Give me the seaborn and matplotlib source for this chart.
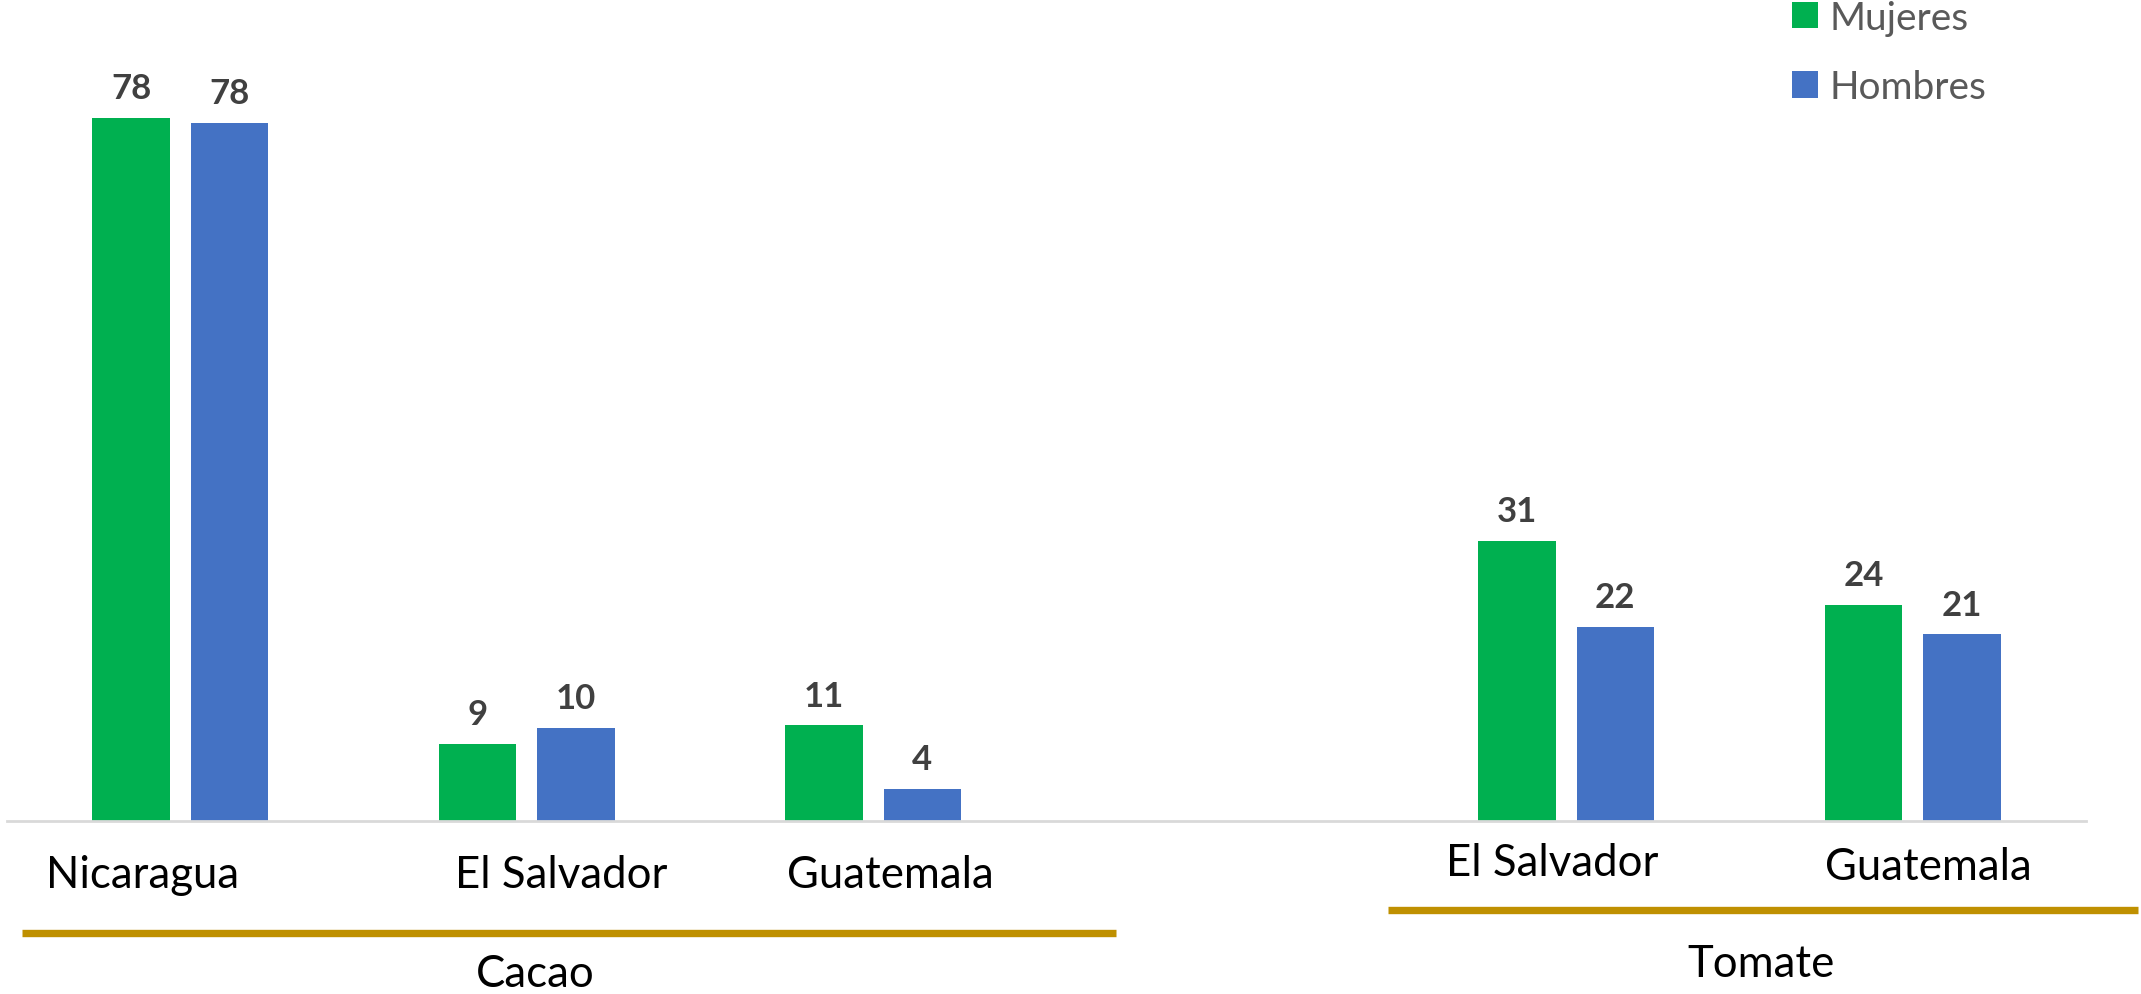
import pandas as pd
import numpy as np
import matplotlib
matplotlib.use('Agg')
import matplotlib.pyplot as plt
import seaborn as sns

# --- data ---
cultivos = ['Cacao', 'Cacao', 'Cacao', 'Tomate', 'Tomate']
paises = ['Nicaragua', 'El Salvador', 'Guatemala', 'El Salvador', 'Guatemala']
mujeres = [78.0, 8.6, 10.6, 31.1, 24.0]
hombres = [77.5, 10.3, 3.6, 21.5, 20.7]
series = ['Mujeres', 'Hombres']
colores = ['#00B050', '#4472C4']

# label tweaks (category units / pixels below the baseline)
label_dx = [-0.11, 0.10, 0.05, -0.04, 0.046]
label_dy = [66, 66, 66, 54, 58]
grupo_dx = {'Cacao': 0.024, 'Tomate': 0.063}
grupo_span = {'Cacao': (-0.457, 0.702), 'Tomate': (-0.514, 0.65)}
grupo_linea = {'Cacao': 112, 'Tomate': 89}
grupo_texto = {'Cacao': 165, 'Tomate': 155}

claves = [c + '|' + p for c, p in zip(cultivos, paises)]
df = pd.DataFrame({
    'clave': claves * 2,
    'sexo': ['Mujeres'] * len(claves) + ['Hombres'] * len(claves),
    'valor': mujeres + hombres,
})

# empty slot between the two crops
orden = claves[:3] + [' '] + claves[3:]

sns.set_style('white')
plt.rcParams['font.family'] = ['Lato', 'DejaVu Sans']

W, H = 2141, 995
AX_H = 822
fig = plt.figure(figsize=(W / 100, H / 100), dpi=100)
ax = fig.add_axes([7 / W, (H - AX_H) / H, 2079 / W, AX_H / H])

sns.barplot(data=df, x='clave', y='valor', hue='sexo', order=orden,
            hue_order=series, palette=colores, width=0.567, gap=0.21,
            saturation=1, linewidth=0, ax=ax)

ax.set_xlim(-0.5, len(orden) - 0.5)
ax.set_ylim(0, AX_H / 9.01)

for cont in ax.containers:
    ax.bar_label(cont, fmt='%.0f', padding=10, fontsize=25,
                 fontweight='bold', color='#404040')

# axis styling
for s in ['top', 'left', 'right']:
    ax.spines[s].set_visible(False)
ax.spines['bottom'].set_color('#D9D9D9')
ax.spines['bottom'].set_linewidth(2)
ax.set_xticks([])
ax.set_yticks([])
ax.set_xlabel('')
ax.set_ylabel('')

trans = ax.get_xaxis_transform()

# country labels
for i, clave in enumerate(claves):
    pos = orden.index(clave)
    ax.text(pos + label_dx[i], -label_dy[i] / AX_H, paises[i], transform=trans,
            ha='center', va='baseline', fontsize=31.5, color='black', clip_on=False)

# crop brackets
for g in ['Cacao', 'Tomate']:
    pos = [orden.index(k) for k, c in zip(claves, cultivos) if c == g]
    x0 = min(pos) + grupo_span[g][0]
    x1 = max(pos) + grupo_span[g][1]
    y = -grupo_linea[g] / AX_H
    ax.plot([x0, x1], [y, y], transform=trans, color='#BF9000',
            linewidth=5.3, solid_capstyle='butt', clip_on=False)
    ax.text(np.mean(pos) + grupo_dx[g], -grupo_texto[g] / AX_H, g,
            transform=trans, ha='center', va='baseline', fontsize=31.5,
            color='black', clip_on=False)

# legend
h, l = ax.get_legend_handles_labels()
ax.get_legend().remove()
fig.legend(h, l, loc='upper left', bbox_to_anchor=(1792 / W, 1 - 1 / H),
           frameon=False, fontsize=28, handlelength=0.66, handleheight=0.66,
           handletextpad=0.3, labelspacing=0.85, borderpad=0, borderaxespad=0,
           labelcolor='#595959')

fig.savefig('out.png', dpi=100)
